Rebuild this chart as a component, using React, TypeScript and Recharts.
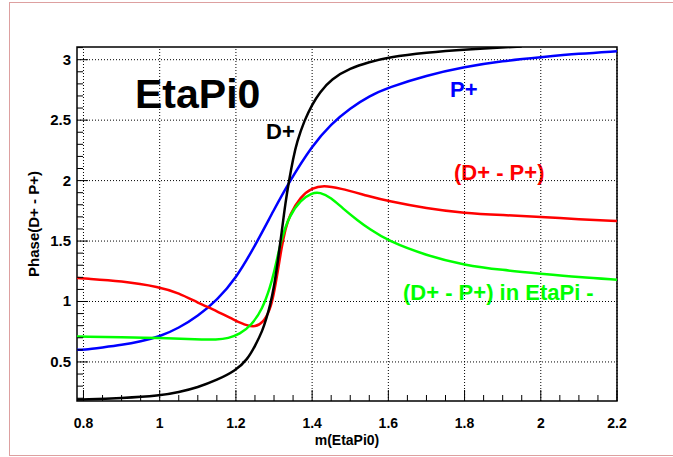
import React from 'react';
import { LineChart, Line, XAxis, YAxis, ReferenceLine, ReferenceArea } from 'recharts';

// ---- data ----
const massD = [0.783, 0.8, 0.9, 1.0, 1.05, 1.1, 1.15, 1.2, 1.23, 1.25, 1.27, 1.28, 1.29, 1.3, 1.31, 1.32, 1.33, 1.34, 1.35, 1.36, 1.38, 1.4, 1.42, 1.45, 1.5, 1.55, 1.6, 1.7, 1.8, 1.95];
const phaseD = [0.19, 0.19, 0.2, 0.22, 0.25, 0.29, 0.35, 0.43, 0.52, 0.63, 0.76, 0.86, 0.97, 1.12, 1.33, 1.57, 1.82, 2.01, 2.18, 2.32, 2.5, 2.63, 2.73, 2.84, 2.93, 2.98, 3.02, 3.06, 3.085, 3.11];

const massP = [0.783, 0.8, 0.85, 0.9, 0.95, 1.0, 1.05, 1.1, 1.15, 1.2, 1.25, 1.3, 1.34, 1.4, 1.45, 1.5, 1.55, 1.6, 1.7, 1.8, 1.9, 2.0, 2.1, 2.2];
const phaseP = [0.6, 0.6, 0.62, 0.64, 0.67, 0.71, 0.78, 0.88, 1.01, 1.19, 1.46, 1.76, 1.99, 2.29, 2.47, 2.6, 2.7, 2.77, 2.87, 2.94, 2.99, 3.02, 3.05, 3.07];

const massDiff = [0.783, 0.8, 0.9, 1.0, 1.05, 1.1, 1.15, 1.2, 1.23, 1.25, 1.27, 1.29, 1.3, 1.31, 1.32, 1.33, 1.34, 1.37, 1.4, 1.43, 1.47, 1.55, 1.6, 1.7, 1.8, 1.9, 2.0, 2.1, 2.2];
const phaseDiff = [1.195, 1.19, 1.17, 1.12, 1.07, 0.99, 0.92, 0.84, 0.8, 0.79, 0.82, 0.93, 1.07, 1.25, 1.45, 1.6, 1.71, 1.87, 1.94, 1.96, 1.94, 1.87, 1.83, 1.77, 1.73, 1.715, 1.7, 1.68, 1.665];

const massMinus = [0.783, 0.8, 0.9, 1.0, 1.1, 1.15, 1.18, 1.21, 1.24, 1.27, 1.29, 1.3, 1.31, 1.32, 1.34, 1.37, 1.4, 1.42, 1.45, 1.48, 1.52, 1.55, 1.6, 1.7, 1.8, 1.9, 2.0, 2.1, 2.2];
const phaseMinus = [0.71, 0.71, 0.705, 0.7, 0.685, 0.685, 0.695, 0.73, 0.8, 0.94, 1.12, 1.24, 1.38, 1.52, 1.71, 1.84, 1.9, 1.905, 1.86, 1.77, 1.67, 1.6, 1.5, 1.38, 1.3, 1.26, 1.23, 1.2, 1.18];

const xTicks = [0.8, 0.85, 0.9, 0.95, 1.0, 1.05, 1.1, 1.15, 1.2, 1.25, 1.3, 1.35, 1.4, 1.45, 1.5, 1.55, 1.6, 1.65, 1.7, 1.75, 1.8, 1.85, 1.9, 1.95, 2.0, 2.05, 2.1, 2.15, 2.2];
const xMajor = [0.8, 1.0, 1.2, 1.4, 1.6, 1.8, 2.0, 2.2];
const xMajorLabels = ['0.8', '1', '1.2', '1.4', '1.6', '1.8', '2', '2.2'];
const yTicks = [0.2, 0.3, 0.4, 0.5, 0.6, 0.7, 0.8, 0.9, 1.0, 1.1, 1.2, 1.3, 1.4, 1.5, 1.6, 1.7, 1.8, 1.9, 2.0, 2.1, 2.2, 2.3, 2.4, 2.5, 2.6, 2.7, 2.8, 2.9, 3.0, 3.1];
const yMajor = [0.5, 1.0, 1.5, 2.0, 2.5, 3.0];
const yMajorLabels = ['0.5', '1', '1.5', '2', '2.5', '3'];

const X_DOMAIN: [number, number] = [0.783, 2.2];
const Y_DOMAIN: [number, number] = [0.177, 3.105];

const toPts = (xs: number[], ys: number[]) => xs.map((m, i) => ({ m, v: ys[i] }));
const dataD = toPts(massD, phaseD);
const dataP = toPts(massP, phaseP);
const dataDiff = toPts(massDiff, phaseDiff);
const dataMinus = toPts(massMinus, phaseMinus);

const FONT = '"Liberation Sans", Arial, Helvetica, sans-serif';

const majorIndex = (arr: number[], v: number) => arr.findIndex((a) => Math.abs(a - v) < 1e-6);

const renderXTick = (props: any) => {
  const { x, y, payload } = props;
  const idx = majorIndex(xMajor, payload.value);
  const major = idx >= 0;
  return (
    <g key={`xt-${payload.value}`}>
      <line x1={x} x2={x} y1={y} y2={y - (major ? 11 : 6)} stroke="#000" strokeWidth={1} />
      {major && (
        <text x={x} y={y + 27} textAnchor="middle" fontFamily={FONT} fontWeight="bold" fontSize={14} fill="#000">
          {xMajorLabels[idx]}
        </text>
      )}
    </g>
  );
};

const renderYTick = (props: any) => {
  const { x, y, payload } = props;
  const idx = majorIndex(yMajor, payload.value);
  const major = idx >= 0;
  return (
    <g key={`yt-${payload.value}`}>
      <line x1={x} x2={x + (major ? 11 : 6)} y1={y} y2={y} stroke="#000" strokeWidth={1} />
      {major && (
        <text x={x - 6} y={y + 5} textAnchor="end" fontFamily={FONT} fontWeight="bold" fontSize={15} fill="#000">
          {yMajorLabels[idx]}
        </text>
      )}
    </g>
  );
};

export default function App() {
  return (
    <div style={{ position: 'absolute', left: 0, top: 0, width: 673, height: 457, background: '#fff', overflow: 'hidden' }}>
      <div
        style={{
          position: 'absolute',
          left: 9,
          top: 2,
          width: 700,
          height: 452,
          border: '1px solid rgb(221,160,160)',
        }}
      />
      <div style={{ position: 'absolute', left: 0, top: 0 }}>
        <LineChart width={673} height={457} margin={{ top: 47, right: 56, bottom: 16, left: 17 }}>
          <XAxis
            type="number"
            dataKey="m"
            domain={X_DOMAIN}
            allowDataOverflow
            ticks={xTicks}
            interval={0}
            tick={renderXTick}
            tickLine={false}
            tickSize={0}
            tickMargin={0}
            axisLine={false}
            height={40}
          />
          <YAxis
            type="number"
            dataKey="v"
            domain={Y_DOMAIN}
            allowDataOverflow
            ticks={yTicks}
            interval={0}
            tick={renderYTick}
            tickLine={false}
            tickSize={0}
            tickMargin={0}
            axisLine={false}
            width={60}
          />
          {xMajor.map((v) => (
            <ReferenceLine key={`gx-${v}`} x={v} stroke="#000" strokeWidth={1} strokeDasharray="1 2" />
          ))}
          {yMajor.map((v) => (
            <ReferenceLine key={`gy-${v}`} y={v} stroke="#000" strokeWidth={1} strokeDasharray="1 2" />
          ))}
          <Line data={dataP} dataKey="v" type="basis" stroke="#0000ff" strokeWidth={2.5} dot={false} isAnimationActive={false} />
          <Line data={dataDiff} dataKey="v" type="basis" stroke="#ff0000" strokeWidth={2.5} dot={false} isAnimationActive={false} />
          <Line data={dataMinus} dataKey="v" type="basis" stroke="#00ff00" strokeWidth={2.5} dot={false} isAnimationActive={false} />
          <Line data={dataD} dataKey="v" type="basis" stroke="#000000" strokeWidth={2.5} dot={false} isAnimationActive={false} />
          <ReferenceArea
            x1={X_DOMAIN[0]}
            x2={X_DOMAIN[1]}
            y1={Y_DOMAIN[0]}
            y2={Y_DOMAIN[1]}
            fill="none"
            fillOpacity={0}
            stroke="#000"
            strokeWidth={1.5}
            ifOverflow="visible"
          />
          <text x={135} y={108} fontFamily={FONT} fontWeight="bold" fontSize={41} fill="#000">EtaPi0</text>
          <text x={266} y={139} fontFamily={FONT} fontWeight="bold" fontSize={22} fill="#000">D+</text>
          <text x={450} y={97} fontFamily={FONT} fontWeight="bold" fontSize={22} fill="#0000ff">P+</text>
          <text x={454} y={180} fontFamily={FONT} fontWeight="bold" fontSize={22} fill="#ff0000">(D+ - P+)</text>
          <text x={403} y={300} fontFamily={FONT} fontWeight="bold" fontSize={22} fill="#00ff00">(D+ - P+) in EtaPi -</text>
          <text x={347} y={445} textAnchor="middle" fontFamily={FONT} fontWeight="bold" fontSize={14} fill="#000">m(EtaPi0)</text>
          <text
            x={0}
            y={0}
            transform="translate(39,224) rotate(-90)"
            textAnchor="middle"
            fontFamily={FONT}
            fontWeight="bold"
            fontSize={15}
            fill="#000"
          >
            Phase(D+ - P+)
          </text>
        </LineChart>
      </div>
    </div>
  );
}
